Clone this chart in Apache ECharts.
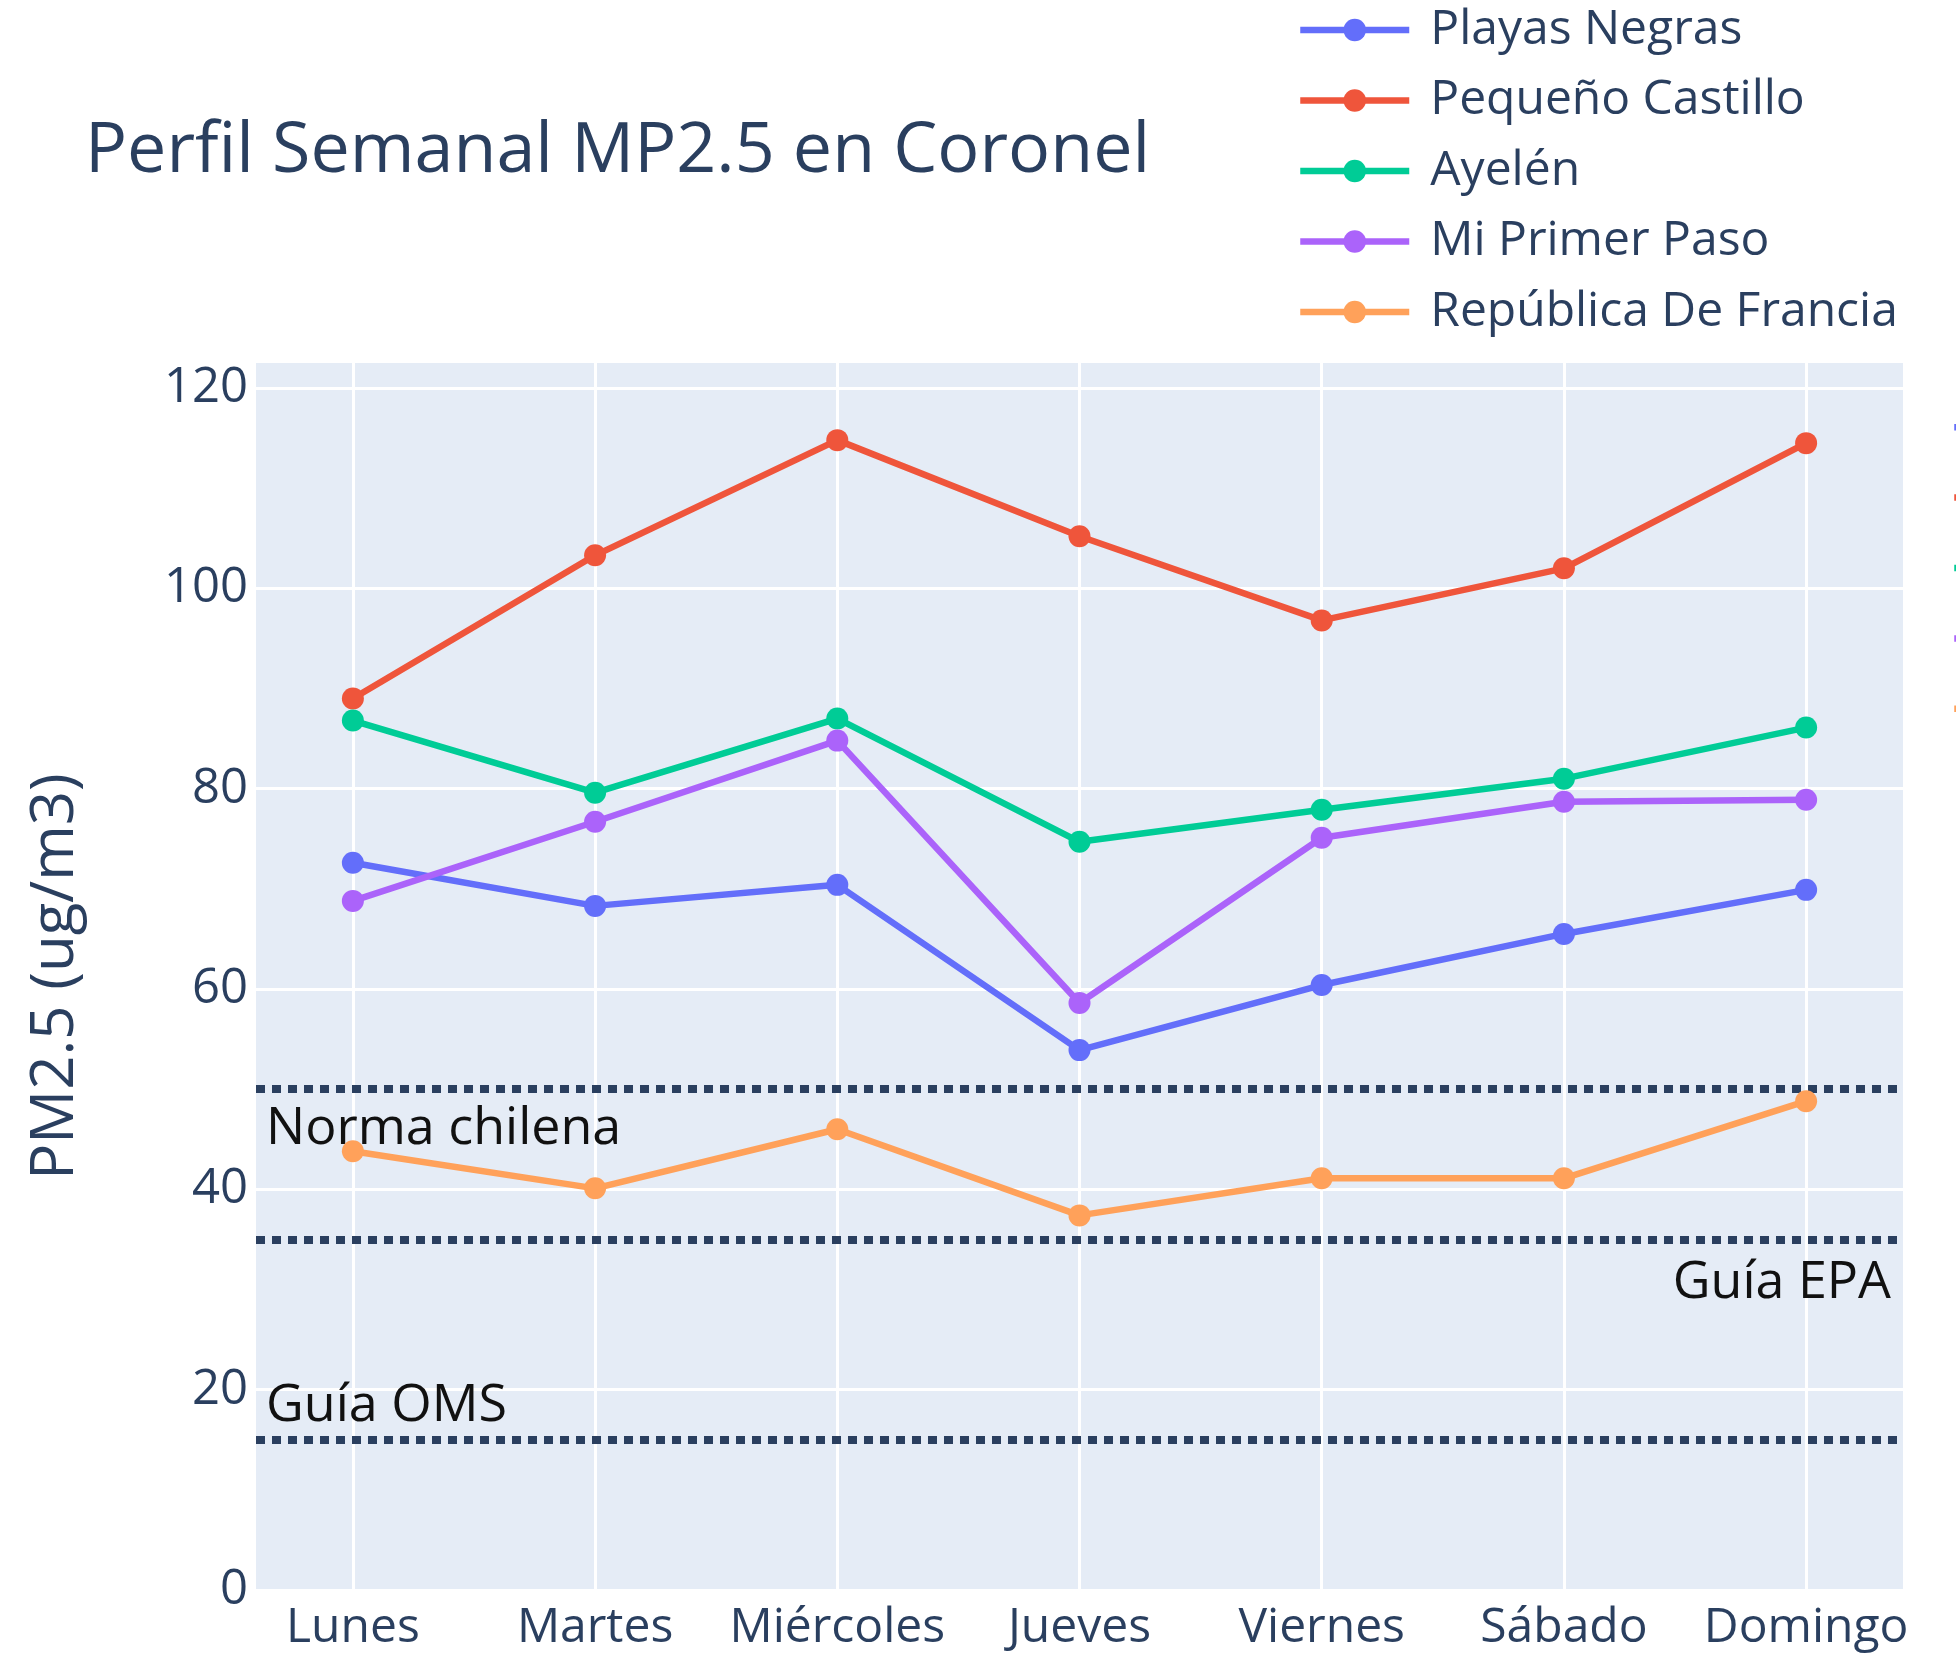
<!DOCTYPE html>
<html>
<head>
<meta charset="utf-8">
<script src="https://cdn.jsdelivr.net/npm/echarts@6/dist/echarts.min.js"></script>
<style>
html,body{margin:0;padding:0;background:#ffffff;}
#chart{width:1956px;height:1653px;}
</style>
</head>
<body>
<div id="chart"></div>
<script>
// ---- data ----
const days = ['Lunes', 'Martes', 'Miércoles', 'Jueves', 'Viernes', 'Sábado', 'Domingo'];
const dayTicks = [0, 1, 2, 3, 4, 5, 6];
const yTicks = [0, 20, 40, 60, 80, 100, 120];
const seriesNames = ['Playas Negras', 'Pequeño Castillo', 'Ayelén', 'Mi Primer Paso', 'República De Francia'];
const playasNegras = [72.6, 68.3, 70.4, 53.9, 60.4, 65.5, 69.9];
const pequenoCastillo = [89.0, 103.3, 114.8, 105.2, 96.8, 102.0, 114.5];
const ayelen = [86.8, 79.6, 87.0, 74.7, 77.9, 81.0, 86.1];
const miPrimerPaso = [68.8, 76.7, 84.8, 58.6, 75.1, 78.7, 78.9];
const republicaFrancia = [43.8, 40.1, 46.0, 37.4, 41.1, 41.1, 48.8];
const refValues = [50, 35, 15];
const refLabels = ['Norma chilena', 'Guía EPA', 'Guía OMS'];

// ---- styling ----
const colors = ['#636efa', '#EF553B', '#00cc96', '#ab63fa', '#FFA15A'];
const FONT = '"Open Sans", "Noto Sans", sans-serif';
const TXT = '#2a3f5f';
const allValues = [playasNegras, pequenoCastillo, ayelen, miPrimerPaso, republicaFrancia];
const refPos = [
  { position: 'insideStartBottom', distance: [10, 14] },
  { position: 'insideEndBottom', distance: [12, 18] },
  { position: 'insideStartTop', distance: [10, 8] }
];

const series = seriesNames.map((name, k) => ({
  name: name,
  type: 'line',
  data: allValues[k].map((v, i) => [dayTicks[i], v]),
  symbol: 'circle',
  symbolSize: 22,
  lineStyle: { width: 6.5, color: colors[k] },
  itemStyle: { color: colors[k], borderWidth: 0 },
  emphasis: { disabled: true },
  z: 3 + k
}));

series[series.length - 1].markLine = {
  silent: true,
  symbol: ['none', 'none'],
  animation: false,
  lineStyle: { color: TXT, width: 8, type: [9, 7] },
  emphasis: { disabled: true },
  data: refValues.map((v, i) => ({
    yAxis: v,
    name: refLabels[i],
    label: {
      show: true,
      formatter: '{b}',
      position: refPos[i].position,
      distance: refPos[i].distance,
      fontSize: 52,
      fontFamily: FONT,
      color: '#111111'
    }
  }))
};

const legendCommon = {
  orient: 'vertical',
  padding: 0,
  itemWidth: 109,
  itemHeight: 28,
  itemGap: 14.5,
  selectedMode: false,
  data: seriesNames,
  lineStyle: { width: 6.5 },
  textStyle: { fontFamily: FONT, fontSize: 48, color: TXT, lineHeight: 56, padding: [0, 0, 0, 16] }
};

const chart = echarts.init(document.getElementById('chart'), null, { renderer: 'canvas' });
chart.setOption({
  animation: false,
  color: colors,
  backgroundColor: '#ffffff',
  title: {
    text: 'Perfil Semanal MP2.5 en Coronel',
    left: 85,
    top: 117,
    padding: 0,
    textStyle: { fontFamily: FONT, fontSize: 70, fontWeight: 'normal', color: TXT }
  },
  legend: [
    Object.assign({}, legendCommon, { left: 1297, top: 2 }),
    Object.assign({}, legendCommon, { left: 1951, top: 416, itemGap: 48, formatter: () => '' })
  ],
  grid: {
    left: 256, right: 53, top: 363, bottom: 63,
    show: true, backgroundColor: '#E5ECF6', borderWidth: 0,
    containLabel: false
  },
  xAxis: {
    type: 'value',
    min: -0.4,
    max: 6.4,
    axisLine: { show: false },
    axisTick: { show: false, customValues: dayTicks },
    axisLabel: {
      customValues: dayTicks,
      formatter: (v) => days[Math.round(v)],
      fontFamily: FONT, fontSize: 48, color: TXT, margin: 14
    },
    splitLine: { show: true, lineStyle: { color: '#ffffff', width: 3 } }
  },
  yAxis: {
    type: 'value',
    min: 0,
    max: 122.5,
    name: 'PM2.5 (ug/m3)',
    nameLocation: 'middle',
    nameGap: 170,
    nameTextStyle: { fontFamily: FONT, fontSize: 60, color: TXT },
    axisLine: { show: false },
    axisTick: { show: false, customValues: yTicks },
    axisLabel: { customValues: yTicks, fontFamily: FONT, fontSize: 49, color: TXT, margin: 8 },
    splitLine: { show: true, lineStyle: { color: '#ffffff', width: 3 } }
  },
  series: series
});
</script>
</body>
</html>
